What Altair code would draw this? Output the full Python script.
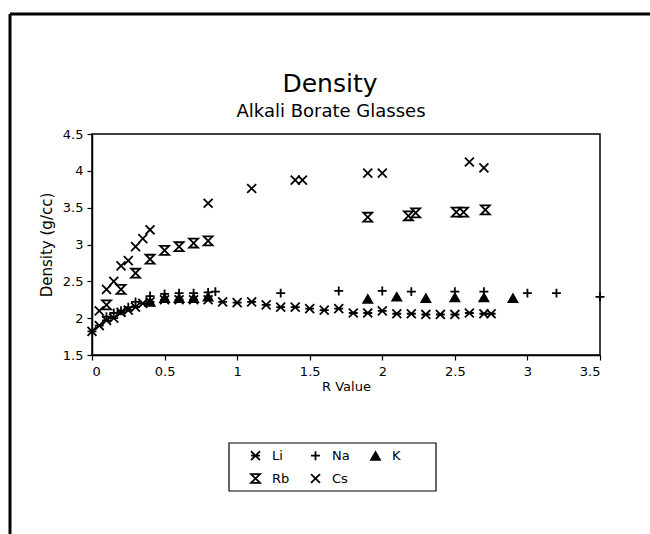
import altair as alt
import pandas as pd

# ---- data ----
series_order = ["Li", "Na", "K", "Rb", "Cs"]

li_r = [0, 0.05, 0.1, 0.15, 0.2, 0.25, 0.3, 0.35, 0.4, 0.5, 0.6, 0.7, 0.8, 0.9, 1.0, 1.1, 1.2,
        1.3, 1.4, 1.5, 1.6, 1.7, 1.8, 1.9, 2.0, 2.1, 2.2, 2.3, 2.4, 2.5, 2.6, 2.7, 2.75]
li_d = [1.82, 1.90, 1.97, 2.00, 2.08, 2.11, 2.15, 2.20, 2.22, 2.25, 2.25, 2.25, 2.25, 2.22, 2.21, 2.22, 2.18,
        2.15, 2.15, 2.13, 2.11, 2.13, 2.07, 2.07, 2.10, 2.06, 2.06, 2.05, 2.05, 2.05, 2.07, 2.06, 2.06]

na_r = [0.1, 0.15, 0.2, 0.25, 0.3, 0.4, 0.5, 0.6, 0.7, 0.8, 0.85, 1.3, 1.7, 2.0, 2.2, 2.5, 2.7, 3.0, 3.2, 3.5]
na_d = [2.02, 2.07, 2.10, 2.15, 2.22, 2.30, 2.33, 2.34, 2.34, 2.35, 2.36, 2.34, 2.37, 2.37, 2.36, 2.36, 2.36, 2.34, 2.34, 2.29]

k_r = [0.4, 0.5, 0.6, 0.7, 0.8, 1.9, 2.1, 2.3, 2.5, 2.7, 2.9]
k_d = [2.22, 2.27, 2.27, 2.27, 2.29, 2.26, 2.29, 2.27, 2.28, 2.28, 2.27]

rb_r = [0.1, 0.2, 0.3, 0.4, 0.5, 0.6, 0.7, 0.8, 1.9, 2.18, 2.23, 2.51, 2.56, 2.71]
rb_d = [2.18, 2.39, 2.61, 2.80, 2.92, 2.97, 3.02, 3.05, 3.37, 3.39, 3.43, 3.44, 3.44, 3.47]

cs_r = [0.05, 0.1, 0.15, 0.2, 0.25, 0.3, 0.35, 0.4, 0.8, 1.1, 1.4, 1.45, 1.9, 2.0, 2.6, 2.7]
cs_d = [2.10, 2.39, 2.50, 2.71, 2.78, 2.97, 3.08, 3.20, 3.56, 3.76, 3.875, 3.875, 3.97, 3.97, 4.12, 4.04]

x_ticks = [0, 0.5, 1, 1.5, 2, 2.5, 3, 3.5]
y_ticks = [1.5, 2, 2.5, 3, 3.5, 4, 4.5]

title_text = "Density"
subtitle_text = "Alkali Borate Glasses"

rows = []
for name, rs, ds in [("Li", li_r, li_d), ("Na", na_r, na_d), ("K", k_r, k_d),
                     ("Rb", rb_r, rb_d), ("Cs", cs_r, cs_d)]:
    for r, d in zip(rs, ds):
        rows.append({"series": name, "R": r, "density": d})
df = pd.DataFrame(rows)

# marker shapes
shape_paths = [
    "M-1,-1L1,1M-1,1L1,-1M-1,0L1,0",   # Li asterisk
    "M-1,0L1,0M0,-1L0,1",              # Na plus
    "triangle-up",                      # K filled triangle
    "M-1,-1L1,-1L-1,1L1,1Z",           # Rb hourglass
    "M-1,-1L1,1M-1,1L1,-1",            # Cs cross
]
fill_range = ["transparent", "transparent", "black", "transparent", "transparent"]
stroke_range = ["black"] * 5

FONT = "DejaVu Sans"

legend = alt.Legend(
    title=None, orient="none", legendX=157, legendY=315, direction="horizontal",
    columns=3, labelFont=FONT, labelFontSize=13, labelColor="black",
    labelOffset=10, columnPadding=17, rowPadding=6, symbolSize=80,
    symbolStrokeWidth=1.8, padding=0,
)

points = alt.Chart(df).mark_point(
    filled=False, strokeWidth=1.8, size=80, opacity=1
).encode(
    x=alt.X("R:Q", scale=alt.Scale(domain=[0, 3.5], nice=False),
            axis=alt.Axis(title="R Value", values=x_ticks, labelExpr="'' + datum.value")),
    y=alt.Y("density:Q", scale=alt.Scale(domain=[1.5, 4.5], nice=False, zero=False),
            axis=alt.Axis(title="Density (g/cc)", values=y_ticks, labelExpr="'' + datum.value")),
    shape=alt.Shape("series:N", scale=alt.Scale(domain=series_order, range=shape_paths), legend=legend),
    fill=alt.Fill("series:N", scale=alt.Scale(domain=series_order, range=fill_range), legend=legend),
    stroke=alt.Stroke("series:N", scale=alt.Scale(domain=series_order, range=stroke_range), legend=legend),
)

one = pd.DataFrame({"k": [0]})
page_left = alt.Chart(one).mark_rule(color="black", strokeWidth=3).encode(
    x=alt.value(-82), y=alt.value(-120), y2=alt.value(400))
page_top = alt.Chart(one).mark_rule(color="black", strokeWidth=3).encode(
    x=alt.value(-82), x2=alt.value(558), y=alt.value(-120))

legend_box = alt.Chart(one).mark_rect(fill="transparent", stroke="black", strokeWidth=1.2).encode(
    x=alt.value(137), x2=alt.value(344), y=alt.value(309), y2=alt.value(357))

title_mark = alt.Chart(one).mark_text(
    font=FONT, fontSize=25, color="black", align="center", baseline="alphabetic"
).encode(x=alt.value(238), y=alt.value(-42), text=alt.value(title_text))
subtitle_mark = alt.Chart(one).mark_text(
    font=FONT, fontSize=18, color="black", align="center", baseline="alphabetic"
).encode(x=alt.value(239), y=alt.value(-17), text=alt.value(subtitle_text))

chart = alt.layer(points, page_left, page_top, legend_box, title_mark, subtitle_mark).properties(
    width=508, height=221,
    background="white",
    autosize=alt.AutoSizeParams(type="none"),
    padding={"left": 92, "top": 134, "right": 50, "bottom": 179},
).configure_view(
    stroke="black", strokeWidth=1.5
).configure_axis(
    grid=False, domainColor="black", domainWidth=1.5, tickColor="black", tickSize=5,
    tickWidth=1.2, labelFont=FONT, labelFontSize=13, labelColor="black",
    titleFont=FONT, titleFontWeight="normal", titleColor="black",
).configure_axisX(
    labelPadding=5, titleFontSize=13, titlePadding=2, titleFontWeight="normal"
).configure_axisY(
    labelPadding=4, titleFontSize=15, titlePadding=8, titleFontWeight="normal"
)

chart.save("out.html", embed_options={"renderer": "svg", "actions": False})
